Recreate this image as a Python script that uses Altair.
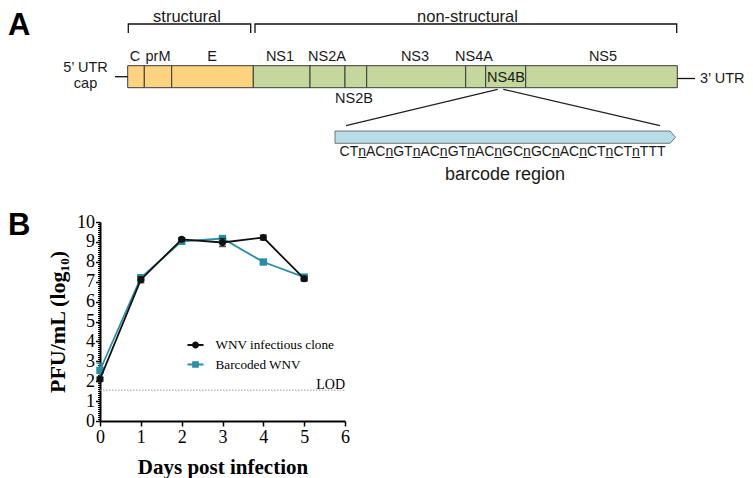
import altair as alt
import pandas as pd

# ---------------- Panel B: growth kinetics ----------------
days = [0, 1, 2, 3, 4, 5]
series_names = ["WNV infectious clone", "Barcoded WNV"]
wnv_clone_titer = [2.10, 7.10, 9.13, 8.97, 9.22, 7.15]
wnv_clone_sd = [0.10, 0.15, 0.08, 0.20, 0.12, 0.12]
barcoded_titer = [2.55, 7.20, 9.03, 9.17, 7.99, 7.23]
barcoded_sd = [0.35, 0.10, 0.08, 0.10, 0.08, 0.10]
lod_titer = 1.55
x_tick_values = [0, 1, 2, 3, 4, 5, 6]
y_tick_values = [0, 1, 2, 3, 4, 5, 6, 7, 8, 9, 10]
y_minor_values = [i / 10 for i in range(101) if i % 10]

# ---------------- Panel A: genome map (diagram units) ----------------
genes = ["C", "prM", "E", "NS1", "NS2A", "NS2B", "NS3", "NS4A", "NS4B", "NS5"]
gene_group = ["structural"] * 3 + ["non-structural"] * 7
gene_edges = [127.7, 144.3, 171.7, 253.3, 310.0, 345.0, 366.7, 465.7, 485.7, 525.7, 677.3]
genome_top, genome_bottom = 65.7, 87.7
gene_label_x = [135, 158, 212, 280, 327, 354, 415, 474, 506, 603]
gene_label_y = [57, 57, 57, 57, 57, 99, 57, 57, 77.5, 57]

region_names = ["structural", "non-structural"]
region_label_x = [187, 467.5]
region_label_y = [22.2, 22.2]
bracket_region = ["structural"] * 4 + ["non-structural"] * 4
bracket_x = [128.3, 128.3, 250.7, 250.7, 255.0, 255.0, 676.7, 676.7]
bracket_y = [33.0, 24.0, 24.0, 33.0, 33.0, 24.0, 24.0, 33.0]

utr_x = [115.0, 677.3]
utr_x2 = [127.7, 695.0]
utr_y = [76.7, 78.5]
utr5_labels = ["5\u2019 UTR", "cap"]
utr5_x = [85.5, 85.5]
utr5_y = [68.3, 84.0]
utr3_labels = ["3\u2019 UTR"]
utr3_x = [700.0]
utr3_y = [78.5]

zoom_x = [497.7, 503.3]
zoom_y = [89.3, 89.3]
zoom_x2 = [346.0, 660.0]
zoom_y2 = [125.7, 125.7]

arrow_x = [335.0, 670.0, 675.5]
arrow_top = [131.0, 131.0, 137.2]
arrow_bottom = [143.3, 143.3, 137.2]

barcode_seq = "CTnACnGTnACnGTnACnGCnGCnACnCTnCTnTTT".replace("n", "n\u0332")
barcode_labels = [barcode_seq]
barcode_x = [502.5]
barcode_y = [151.7]
barcode_caption = ["barcode region"]
caption_x = [505.0]
caption_y = [175.0]

panel_letters = ["A", "B"]
panel_x = [8.0, 8.0]
panel_y = [34.5, 235.0]

# ---------------- styles ----------------
SANS = "Liberation Sans"
SERIF = "Liberation Serif"
series_colors = ["#111111", "#2a8fa3"]
series_shapes = ["circle", "square"]
gene_colors = ["#FDD37F", "#C4D79C"]
barcode_fill = "#B7DEE8"

# ============ Panel B ============
bx = alt.Scale(domain=[0, 6], nice=False, zero=False)
by = alt.Scale(domain=[0, 10], nice=False, zero=False)
x_axis = alt.Axis(orient="bottom", values=x_tick_values, format="d", labelFont=SERIF, labelFontSize=18,
                  labelColor="black", labelFlush=False, labelPadding=2, tickSize=5, tickWidth=1.5,
                  tickColor="black", domainColor="black", domainWidth=2, grid=False,
                  title="Days post infection", titleFont=SERIF, titleFontSize=21, titleFontWeight="bold",
                  titleColor="black", titlePadding=10)
y_axis = alt.Axis(orient="left", values=y_tick_values, format="d", labelFont=SERIF, labelFontSize=18,
                  labelColor="black", labelPadding=1, labelFlush=False, tickSize=4.5, tickWidth=1.5,
                  tickColor="black", domainColor="black", domainWidth=2, grid=False,
                  title="PFU/mL (log\u2081\u2080)", titleFont=SERIF, titleFontSize=22,
                  titleFontWeight="bold", titleColor="black", titlePadding=7)

rows = []
for name, vals, sds in [(series_names[0], wnv_clone_titer, wnv_clone_sd),
                        (series_names[1], barcoded_titer, barcoded_sd)]:
    for d, v, s in zip(days, vals, sds):
        rows.append({"day": d, "titer": v, "lo": v - s, "hi": v + s, "series": name})
dfB = pd.DataFrame(rows)

XB = alt.X("day:Q", scale=bx, axis=x_axis)
b_layers = []
for idx in [1, 0]:
    name, col, shp = series_names[idx], series_colors[idx], series_shapes[idx]
    base = alt.Chart(dfB).transform_filter(alt.datum.series == name)
    b_layers.append(base.mark_line(color=col, strokeWidth=1.8).encode(
        x=XB, y=alt.Y("titer:Q", scale=by, axis=y_axis)))
    b_layers.append(base.mark_rule(color=col, strokeWidth=1.5).encode(
        x=XB, y=alt.Y("lo:Q", scale=by, axis=y_axis), y2="hi:Q"))
    for f in ["lo", "hi"]:
        b_layers.append(base.mark_tick(color=col, thickness=1.5, size=7, orient="horizontal").encode(
            x=XB, y=alt.Y(f + ":Q", scale=by, axis=y_axis)))
    b_layers.append(base.mark_point(filled=True, opacity=1, shape=shp, color=col,
                                    size=50 if shp == "circle" else 55).encode(
        x=XB, y=alt.Y("titer:Q", scale=by, axis=y_axis)))

dfLOD = pd.DataFrame({"x": [0], "x2": [6], "lod": [lod_titer], "label": ["LOD"]})
lod_rule = alt.Chart(dfLOD).mark_rule(color="#999999", strokeWidth=1, strokeDash=[1.5, 1.5]).encode(
    x=alt.X("x:Q", scale=bx, axis=x_axis), x2="x2:Q", y=alt.Y("lod:Q", scale=by, axis=y_axis))
lod_text = alt.Chart(dfLOD).mark_text(align="right", baseline="bottom", dy=2, font=SERIF,
                                      fontSize=14, color="black").encode(
    x=alt.X("x2:Q", scale=bx, axis=x_axis), y=alt.Y("lod:Q", scale=by, axis=y_axis), text="label:N")

circle_path = "M-1,-0.12H1V0.12H-1Z M0.44,0 A0.44,0.44 0 1,1 -0.44,0 A0.44,0.44 0 1,1 0.44,0 Z"
square_path = "M-1,-0.12H1V0.12H-1Z M-0.42,-0.42H0.42V0.42H-0.42Z"
legend = alt.Legend(orient="none", legendX=87.5, legendY=115, title=None, symbolSize=256,
                    symbolStrokeWidth=0, labelFont=SERIF, labelFontSize=13.2, labelColor="black",
                    labelOffset=12, rowPadding=4.5, padding=0)
legend_layer = alt.Chart(dfB).transform_filter("datum.day < 0").mark_point(filled=True, opacity=1).encode(
    x=XB, y=alt.Y("titer:Q", scale=by, axis=y_axis),
    color=alt.Color("series:N", scale=alt.Scale(domain=series_names, range=series_colors), legend=legend),
    shape=alt.Shape("series:N", scale=alt.Scale(domain=series_names, range=[circle_path, square_path]),
                    legend=legend))

panel_b = alt.layer(lod_rule, lod_text, *b_layers, legend_layer)

minor_ticks = alt.Chart(pd.DataFrame({"v": [0]})).mark_point(opacity=0).encode(
    x=alt.X("v:Q", scale=bx, axis=None),
    y=alt.Y("v:Q", scale=by, axis=alt.Axis(orient="left", values=y_minor_values, labels=False,
                                           domain=False, tickSize=2.5, tickWidth=1, tickColor="black",
                                           grid=False, title=None)))

# ============ Panel A ============
ax = alt.Scale(domain=[100, 345], nice=False, zero=False)
ay = alt.Scale(domain=[222, 421], nice=False, zero=False, reverse=True)


def AX(f):
    return alt.X(f, type="quantitative", scale=ax, axis=None)


def AY(f):
    return alt.Y(f, type="quantitative", scale=ay, axis=None)


genes_df = pd.DataFrame({"gene": genes, "group": gene_group, "start": gene_edges[:-1],
                         "end": gene_edges[1:], "top": [genome_top] * len(genes),
                         "bottom": [genome_bottom] * len(genes),
                         "lx": gene_label_x, "ly": gene_label_y})
gene_rects = alt.Chart(genes_df).mark_rect(stroke="#3a3a3a", strokeWidth=1).encode(
    x=AX("start"), x2="end", y=AY("top"), y2="bottom",
    fill=alt.Fill("group:N", scale=alt.Scale(domain=region_names, range=gene_colors), legend=None))
gene_text = alt.Chart(genes_df).mark_text(font=SANS, fontSize=14.5, color="#1a1a1a", baseline="middle").encode(
    x=AX("lx"), y=AY("ly"), text="gene:N")

brackets_df = pd.DataFrame({"region": bracket_region, "x": bracket_x, "y": bracket_y,
                            "o": list(range(len(bracket_x)))})
brackets = alt.Chart(brackets_df).mark_line(color="#111111", strokeWidth=1.3).encode(
    x=AX("x"), y=AY("y"), detail="region:N", order="o:Q")
regions_df = pd.DataFrame({"label": region_names, "x": region_label_x, "y": region_label_y})
region_text = alt.Chart(regions_df).mark_text(font=SANS, fontSize=16.5, color="#1a1a1a",
                                              baseline="alphabetic").encode(
    x=AX("x"), y=AY("y"), text="label:N")

utr_df = pd.DataFrame({"x": utr_x, "x2": utr_x2, "y": utr_y})
utr_lines = alt.Chart(utr_df).mark_rule(color="#111111", strokeWidth=1.3).encode(
    x=AX("x"), x2="x2", y=AY("y"))
utr5_df = pd.DataFrame({"label": utr5_labels, "x": utr5_x, "y": utr5_y})
utr5_text = alt.Chart(utr5_df).mark_text(font=SANS, fontSize=14.5, color="#1a1a1a", baseline="middle").encode(
    x=AX("x"), y=AY("y"), text="label:N")
utr3_df = pd.DataFrame({"label": utr3_labels, "x": utr3_x, "y": utr3_y})
utr3_text = alt.Chart(utr3_df).mark_text(font=SANS, fontSize=14.5, color="#1a1a1a", baseline="middle",
                                         align="left").encode(
    x=AX("x"), y=AY("y"), text="label:N")

zoom_df = pd.DataFrame({"x": zoom_x, "y": zoom_y, "x2": zoom_x2, "y2": zoom_y2})
zoom_lines = alt.Chart(zoom_df).mark_rule(color="#222222", strokeWidth=1.3).encode(
    x=AX("x"), y=AY("y"), x2="x2", y2="y2")

arrow_df = pd.DataFrame({"x": arrow_x, "top": arrow_top, "bottom": arrow_bottom})
arrow = alt.Chart(arrow_df).mark_area(fill=barcode_fill, stroke="#555555", strokeWidth=0.8,
                                      opacity=1).encode(
    x=AX("x"), y=AY("top"), y2="bottom")

bc_df = pd.DataFrame({"label": barcode_labels, "x": barcode_x, "y": barcode_y})
bc_text = alt.Chart(bc_df).mark_text(font=SANS, fontSize=14, color="#1a1a1a", baseline="middle").encode(
    x=AX("x"), y=AY("y"), text="label:N")
cap_df = pd.DataFrame({"label": barcode_caption, "x": caption_x, "y": caption_y})
cap_text = alt.Chart(cap_df).mark_text(font=SANS, fontSize=18, color="#1a1a1a", baseline="middle").encode(
    x=AX("x"), y=AY("y"), text="label:N")

letters_df = pd.DataFrame({"label": panel_letters, "x": panel_x, "y": panel_y})
letters = alt.Chart(letters_df).mark_text(font=SANS, fontSize=31, fontWeight="bold", color="black",
                                          align="left", baseline="alphabetic").encode(
    x=AX("x"), y=AY("y"), text="label:N")

panel_a = alt.layer(gene_rects, gene_text, brackets, region_text, utr_lines, utr5_text, utr3_text,
                    zoom_lines, arrow, bc_text, cap_text, letters)

chart = alt.layer(panel_b, minor_ticks, panel_a).resolve_scale(
    x="independent", y="independent"
).properties(
    width=245, height=199,
    autosize=alt.AutoSizeParams(type="none"),
    padding={"left": 92, "top": 214, "right": 400, "bottom": 70},
).configure_view(stroke=None)

chart.save("out.html", embed_options={"renderer": "svg", "actions": False})
